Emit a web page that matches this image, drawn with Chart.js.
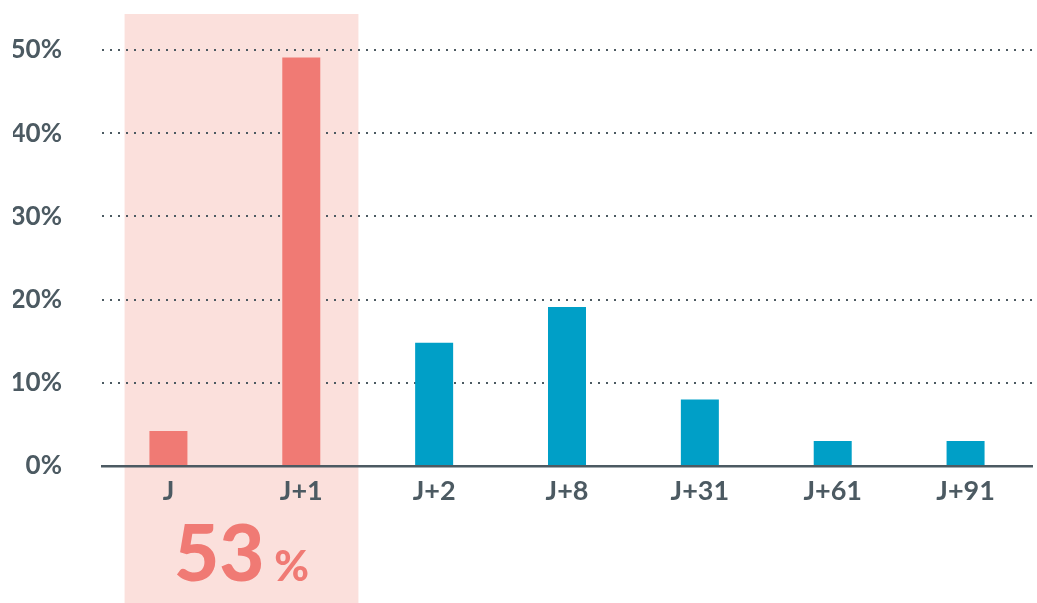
<!DOCTYPE html>
<html>
<head>
<meta charset="utf-8">
<script src="https://cdn.jsdelivr.net/npm/chart.js@4"></script>
<style>
  html, body { margin: 0; padding: 0; background: #fff; }
  #wrap { width: 1037px; height: 603px; position: relative; }
</style>
</head>
<body>
<div id="wrap"><canvas id="barChartDelay"></canvas></div>
<script>
// data
var labels = ['J', 'J+1', 'J+2', 'J+8', 'J+31', 'J+61', 'J+91']
var shares = [4.2, 49.1, 14.8, 19.1, 8.0, 3.0, 3.0]
var yTicks = [0, 10, 20, 30, 40, 50]
var highlightCount = 2
var highlightLabel = '53'

var salmon = '#f07a74'
var blue = '#009fc7'
var bandColor = '#fbe0dc'
var grey = '#4c5a62'

function bandEdges(chart) {
    var x = chart.scales.x
    var w = x.getPixelForValue(1) - x.getPixelForValue(0)
    return {
        left: x.getPixelForValue(0) - 0.33 * w,
        right: x.getPixelForValue(highlightCount - 1) + 0.43 * w
    }
}

// pink band behind the first two days + the big total under it
var bandPlugin = {
    id: 'band',
    beforeDraw: function (chart) {
        var ctx = chart.ctx
        var b = bandEdges(chart)
        ctx.save()
        ctx.fillStyle = bandColor
        ctx.fillRect(b.left, 14, b.right - b.left, chart.height - 14)
        ctx.restore()
    },
    afterDraw: function (chart) {
        var ctx = chart.ctx
        var b = bandEdges(chart)
        var mid = (b.left + b.right) / 2
        ctx.save()
        ctx.fillStyle = salmon
        ctx.textBaseline = 'alphabetic'
        ctx.textAlign = 'left'
        ctx.font = '900 78px Lato'
        var bigW = ctx.measureText(highlightLabel).width
        ctx.font = '900 42px Lato'
        var pctW = ctx.measureText('%').width
        var gap = 10
        var start = mid - (bigW + gap + pctW) / 2
        ctx.font = '900 78px Lato'
        ctx.fillText(highlightLabel, start, 581)
        ctx.font = '900 42px Lato'
        ctx.fillText('%', start + bigW + gap, 581)
        ctx.restore()
    }
}

function loadDelayBarChart() {
    var barChartCanvas = document.getElementById('barChartDelay').getContext('2d')

    var barChartData = {
        labels: labels,
        datasets: [{
            data: shares,
            backgroundColor: function (c) { return c.dataIndex < highlightCount ? salmon : blue },
            borderWidth: 0,
            categoryPercentage: 1,
            barPercentage: 0.286
        }]
    }

    var barChartOptions = {
        responsive: true,
        maintainAspectRatio: false,
        animation: false,
        layout: { padding: { left: 13, right: 5, top: 50, bottom: 85 } },
        plugins: {
            legend: { display: false },
            tooltip: { enabled: false }
        },
        scales: {
            x: {
                afterFit: function (axis) { axis.height = 52 },
                grid: { display: false, drawTicks: false },
                border: { display: true, color: grey, width: 2.5 },
                ticks: {
                    color: grey,
                    padding: 9,
                    font: { family: 'Lato', size: 27, weight: 'bold' }
                }
            },
            y: {
                min: 0,
                max: yTicks[yTicks.length - 1],
                afterBuildTicks: function (axis) {
                    axis.ticks = yTicks.map(function (v) { return { value: v } })
                },
                afterFit: function (axis) {
                    axis.width = 89
                    axis.paddingTop = 0
                    axis.paddingBottom = 0
                },
                grid: {
                    color: grey,
                    lineWidth: 2,
                    drawTicks: false
                },
                border: { display: false, dash: [2, 6] },
                ticks: {
                    color: grey,
                    padding: 40,
                    font: { family: 'Lato', size: 26, weight: 'bold' },
                    callback: function (v) { return v + '%' }
                }
            }
        }
    }

    new Chart(barChartCanvas, {
        type: 'bar',
        data: barChartData,
        options: barChartOptions,
        plugins: [bandPlugin]
    })
}

loadDelayBarChart()
</script>
</body>
</html>
